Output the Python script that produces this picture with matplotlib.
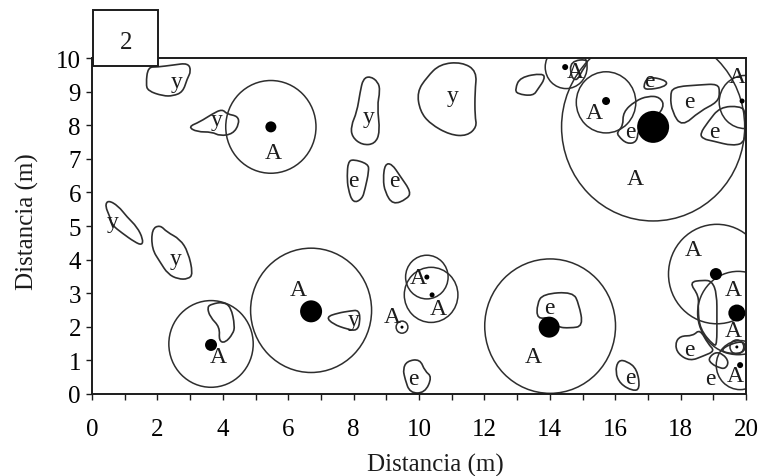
import matplotlib
matplotlib.use("Agg")
import matplotlib.pyplot as plt
from matplotlib.patches import Circle, PathPatch, Rectangle
from matplotlib.path import Path

plt.rcParams['font.family'] = ['Liberation Serif', 'DejaVu Serif']

INK = '#1c1c1c'
LINE = '#2e2e2e'

x_ticks = list(range(0, 21, 2))
x_minor = list(range(1, 20, 2))
y_ticks = list(range(0, 11))
x_label = "Distancia (m)"
y_label = "Distancia (m)"
panel = "2"

# crowns: x, y, radius (m)
crown_x = [5.47, 6.70, 3.64, 14.01, 10.24, 10.37, 9.48, 17.16, 15.72, 14.50, 19.97, 19.11, 19.76, 19.82, 19.72]
crown_y = [7.95, 2.49, 1.49, 2.02, 3.48, 2.95, 1.99, 7.95, 8.68, 9.73, 8.69, 3.57, 2.41, 0.86, 1.40]
crown_r = [1.38, 1.85, 1.29, 2.00, 0.65, 0.82, 0.18, 2.80, 0.91, 0.64, 0.79, 1.48, 1.24, 0.73, 0.21]

# trunks: x, y, diameter (px)
trunk_x = [5.47, 6.70, 3.64, 13.98, 10.24, 10.40, 9.48, 17.16, 15.72, 14.47, 19.88, 19.08, 19.72, 19.82, 19.72]
trunk_y = [7.95, 2.46, 1.46, 1.99, 3.48, 2.95, 1.99, 7.95, 8.72, 9.73, 8.72, 3.57, 2.41, 0.86, 1.40]
trunk_d = [11, 22, 12, 21, 5, 5, 3, 32, 8, 6, 5, 12, 17, 6, 3]

# patches of understory, each as (xs, ys)
patches = [
    ([1.71, 1.99, 2.48, 2.94, 3.03, 2.91, 2.78, 2.48, 2.17, 1.71, 1.65],
     [9.73, 9.73, 9.79, 9.85, 9.61, 9.38, 8.99, 8.87, 8.87, 9.02, 9.23]),
    ([2.94, 3.30, 3.67, 3.98, 4.13, 4.46, 4.50, 4.31, 3.91, 3.67, 3.21],
     [7.95, 8.10, 8.33, 8.48, 8.33, 8.27, 8.04, 7.74, 7.68, 7.80, 7.80]),
    ([0.49, 0.80, 1.07, 1.38, 1.56, 1.53, 1.31, 0.92, 0.61, 0.55, 0.40],
     [5.77, 5.60, 5.27, 4.97, 4.61, 4.43, 4.52, 4.79, 5.03, 5.27, 5.60]),
    ([1.83, 2.08, 2.29, 2.69, 2.94, 3.09, 2.94, 2.63, 2.32, 2.08, 1.83],
     [4.91, 5.03, 4.82, 4.61, 4.23, 3.57, 3.42, 3.42, 3.57, 3.93, 4.32]),
    ([7.16, 7.52, 7.89, 8.17, 8.20, 8.10, 7.80, 7.37],
     [2.29, 2.41, 2.47, 2.50, 2.14, 1.88, 1.93, 2.08]),
    ([3.52, 3.67, 4.01, 4.25, 4.37, 4.31, 4.07, 3.88, 3.91, 3.61],
     [2.59, 2.68, 2.74, 2.59, 2.02, 1.79, 1.52, 1.58, 1.99, 2.29]),
    ([8.29, 8.50, 8.75, 8.81, 8.72, 8.81, 8.65, 8.26, 7.95, 7.92, 8.10, 8.20],
     [9.38, 9.46, 9.29, 9.02, 8.57, 7.80, 7.44, 7.41, 7.65, 7.98, 8.39, 8.99]),
    ([9.94, 10.24, 10.64, 11.31, 11.77, 11.71, 11.71, 11.77, 11.47, 10.95, 10.34, 10.03],
     [8.99, 9.43, 9.82, 9.88, 9.61, 8.99, 8.27, 7.95, 7.68, 7.71, 8.04, 8.42]),
    ([7.83, 7.98, 8.44, 8.47, 8.35, 8.26, 7.98, 7.83, 7.80],
     [6.90, 6.99, 6.85, 6.64, 6.10, 5.80, 5.68, 6.10, 6.49]),
    ([8.96, 9.17, 9.42, 9.76, 9.63, 9.20, 8.96, 8.90],
     [6.85, 6.85, 6.49, 6.01, 5.80, 5.63, 6.01, 6.40]),
    ([9.51, 9.63, 10.03, 10.18, 10.40, 10.18, 9.72, 9.57],
     [0.74, 0.98, 1.04, 0.68, 0.51, 0.03, 0.03, 0.45]),
    ([13.61, 13.79, 14.71, 14.89, 15.02, 14.62, 14.22, 14.01, 13.61],
     [2.68, 2.98, 3.04, 2.68, 2.02, 1.96, 1.99, 2.29, 2.23]),
    ([16.09, 16.36, 16.67, 16.76, 16.54, 16.15, 16.00],
     [1.01, 0.98, 0.74, 0.15, 0.09, 0.30, 0.65]),
    ([12.94, 13.09, 13.79, 13.85, 13.64, 13.49, 13.00],
     [9.08, 9.43, 9.55, 9.38, 9.08, 8.87, 8.93]),
    ([14.62, 15.23, 14.98, 14.83, 14.65],
     [9.91, 9.97, 9.61, 9.32, 9.43]),
    ([16.85, 17.00, 17.61, 17.52, 16.97],
     [9.14, 9.46, 9.32, 9.14, 9.05]),
    ([16.06, 16.24, 16.24, 16.61, 17.00, 17.37, 17.52, 17.06, 16.70, 16.67, 16.36, 16.09],
     [7.80, 7.98, 8.39, 8.72, 8.87, 8.84, 8.54, 8.04, 7.89, 7.50, 7.44, 7.68]),
    ([17.68, 17.77, 18.59, 19.14, 19.20, 19.14, 18.59, 18.04, 17.74],
     [8.87, 9.14, 9.20, 9.23, 8.99, 8.69, 8.42, 7.95, 8.39]),
    ([18.59, 18.84, 19.20, 19.82, 20.00, 20.00, 19.60, 18.99, 18.69],
     [7.74, 8.10, 8.54, 8.57, 8.39, 7.50, 7.38, 7.53, 7.59]),
    ([18.26, 18.69, 18.96, 19.11, 19.11, 19.11, 19.02, 18.59, 18.53, 18.56],
     [3.33, 3.39, 3.36, 2.98, 2.23, 1.49, 1.43, 1.93, 2.53, 2.92]),
    ([17.83, 17.98, 18.38, 18.59, 18.84, 19.05, 18.69, 18.29, 17.92],
     [1.49, 1.73, 1.73, 1.93, 1.49, 1.28, 1.13, 0.98, 1.19]),
    ([18.84, 19.05, 19.30, 19.48, 19.36, 19.14, 18.96],
     [1.04, 1.25, 1.19, 0.95, 0.74, 0.80, 0.89]),
    ([19.20, 19.51, 19.97, 19.97, 19.60],
     [1.28, 1.49, 1.58, 1.25, 1.19]),
]

# species letters
a_x = [5.54, 6.30, 3.85, 9.17, 9.97, 10.58, 13.49, 16.61, 15.35, 14.77, 19.72, 18.38, 19.60, 19.60, 19.66]
a_y = [7.20, 3.10, 1.13, 2.32, 3.48, 2.53, 1.13, 6.40, 8.39, 9.61, 9.46, 4.29, 3.10, 1.88, 0.54]
y_x = [2.60, 3.82, 0.64, 2.57, 8.01, 8.47, 11.04]
y_y = [9.30, 8.18, 5.12, 4.02, 2.23, 8.27, 8.87]
e_x = [7.98, 9.24, 9.82, 13.98, 16.45, 17.06, 16.45, 18.26, 19.02, 18.26, 18.90]
e_y = [6.34, 6.34, 0.45, 2.56, 0.48, 9.32, 7.80, 8.72, 7.80, 1.31, 0.45]


def blob(xs, ys):
    # rounded closed outline, the points act as quadratic control points
    pts = list(zip(xs, ys))
    n = len(pts)
    mid = [((pts[i][0] + pts[(i + 1) % n][0]) / 2, (pts[i][1] + pts[(i + 1) % n][1]) / 2) for i in range(n)]
    verts = [mid[-1]]
    codes = [Path.MOVETO]
    for i in range(n):
        verts += [pts[i], mid[i]]
        codes += [Path.CURVE3, Path.CURVE3]
    return Path(verts, codes)


def main():
    fig = plt.figure(figsize=(7.6, 4.77), dpi=100)
    ax = fig.add_axes([92 / 760, 1 - 395 / 477, 654 / 760, 336 / 477])
    ax.set_xlim(0, 20)
    ax.set_ylim(0, 10)

    for xs, ys in patches:
        ax.add_patch(PathPatch(blob(xs, ys), fill=False, edgecolor=LINE, linewidth=1.2))
    for x, y, r in zip(crown_x, crown_y, crown_r):
        ax.add_patch(Circle((x, y), r, fill=False, edgecolor=LINE, linewidth=1.1))
    ax.scatter(trunk_x, trunk_y, s=[(d * 0.72) ** 2 for d in trunk_d], color='black',
               linewidths=0, zorder=4)

    for x, y in zip(a_x, a_y):
        ax.text(x, y, "A", fontsize=17, color=INK, ha='center', va='center')
    for x, y in zip(y_x, y_y):
        ax.text(x, y, "y", fontsize=17, color=INK, ha='center', va='center')
    for x, y in zip(e_x, e_y):
        ax.text(x, y, "e", fontsize=17, color=INK, ha='center', va='center')

    ax.set_xticks(x_ticks)
    ax.set_xticks(x_minor, minor=True)
    ax.set_yticks(y_ticks)
    ax.tick_params(axis='x', which='major', length=4, width=1, labelsize=18, pad=13, color=INK)
    ax.tick_params(axis='x', which='minor', length=4, width=1, color=INK)
    ax.tick_params(axis='y', which='major', length=4, width=1, labelsize=18, pad=4, color=INK)
    for s in ax.spines.values():
        s.set_linewidth(1.4)
        s.set_color(INK)

    fig.text(435 / 760, 1 - 465 / 477, x_label, fontsize=18, ha='center', va='center', color=INK)
    fig.text(27 / 760, 1 - 222 / 477, y_label, fontsize=18, rotation=90, ha='center', va='center', color=INK)

    # panel number box sits on top of the corner of the plot
    ax.add_patch(Rectangle((93 / 760, 1 - 67 / 477), 65 / 760, 56 / 477, transform=fig.transFigure,
                           facecolor='white', edgecolor=INK, linewidth=1.4, clip_on=False, zorder=6))
    fig.text(126 / 760, 1 - 43 / 477, panel, fontsize=18, ha='center', va='center', color=INK, zorder=7)

    fig.savefig('out.png', dpi=100)
    plt.close()


if __name__ == '__main__':
    main()
